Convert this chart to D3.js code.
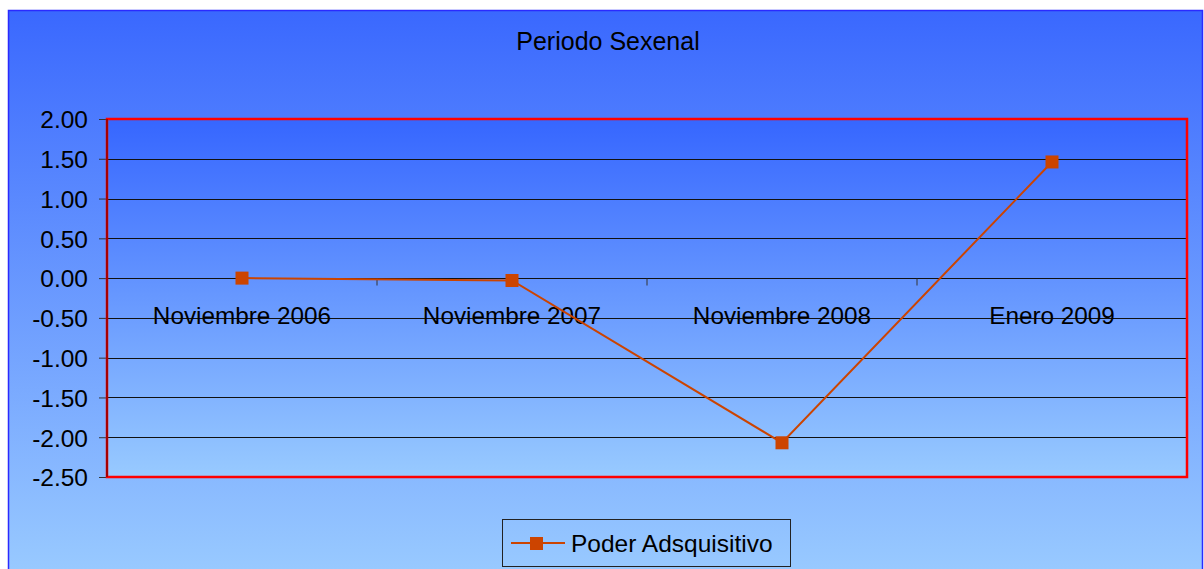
<!DOCTYPE html>
<html><head><meta charset="utf-8">
<script src="https://cdn.jsdelivr.net/npm/d3@7"></script>
<style>body{margin:0;background:#fff}svg{display:block}text{font-family:"Liberation Sans",Arial,sans-serif}</style>
</head><body>
<script>
const categories = ["Noviembre 2006","Noviembre 2007","Noviembre 2008","Enero 2009"];
const values = [0.00, -0.03, -2.07, 1.46];
const yTicks = [2.00,1.50,1.00,0.50,0.00,-0.50,-1.00,-1.50,-2.00,-2.50];
const seriesName = "Poder Adsquisitivo";
const title = "Periodo Sexenal";

const W=1204,H=569;
const svg=d3.select("body").append("svg").attr("width",W).attr("height",H);
const defs=svg.append("defs");
const g1=defs.append("linearGradient").attr("id","bg").attr("x1",0).attr("y1",0).attr("x2",0).attr("y2",1);
g1.append("stop").attr("offset","0%").attr("stop-color","#3a68fe");
g1.append("stop").attr("offset","100%").attr("stop-color","#9acbff");
const g2=defs.append("linearGradient").attr("id","pg").attr("x1",0).attr("y1",0).attr("x2",0).attr("y2",1);
g2.append("stop").attr("offset","0%").attr("stop-color","#3666ff");
g2.append("stop").attr("offset","100%").attr("stop-color","#98caff");

svg.append("rect").attr("x",8.5).attr("y",10.5).attr("width",W-10).attr("height",H).attr("fill","url(#bg)").attr("stroke","#2a2aff").attr("stroke-width",1.5);

const m={l:107,t:119,r:1187,b:477};
const x=d3.scaleBand().domain(categories).range([m.l,m.r]);
const y=d3.scaleLinear().domain([-2.5,2]).range([m.b,m.t]);

svg.append("rect").attr("x",m.l).attr("y",m.t).attr("width",m.r-m.l).attr("height",m.b-m.t).attr("fill","url(#pg)");

// gridlines
svg.append("g").selectAll("line").data(yTicks).join("line")
  .attr("x1",m.l).attr("x2",m.r).attr("y1",d=>Math.round(y(d))+0.5).attr("y2",d=>Math.round(y(d))+0.5)
  .attr("stroke","#111").attr("stroke-width",1);

// y axis
const fmt=d3.format(".2f");
const ya=svg.append("g").attr("transform",`translate(${m.l},0)`)
  .call(d3.axisLeft(y).tickValues(yTicks).tickFormat(d=>fmt(d).replace("\u2212","-")).tickSize(8).tickPadding(11));
ya.select(".domain").remove();
ya.selectAll(".tick line").attr("stroke","#333");
ya.selectAll("text").attr("font-size",24.5).attr("fill","#000").attr("dy","0.36em");

// x axis at y=0
const xa=svg.append("g").attr("transform",`translate(0,${Math.round(y(0))+0.5})`);
xa.selectAll("line").data(d3.range(categories.length+1)).join("line")
  .attr("x1",i=>m.l+i*x.step()).attr("x2",i=>m.l+i*x.step()).attr("y1",0).attr("y2",7)
  .attr("stroke","#333");
xa.selectAll("text").data(categories).join("text")
  .attr("x",d=>x(d)+x.bandwidth()/2).attr("y",45).attr("text-anchor","middle")
  .attr("font-size",24.3).attr("fill","#000").text(d=>d);

// plot border
svg.append("rect").attr("x",m.l).attr("y",m.t).attr("width",m.r-m.l).attr("height",m.b-m.t)
  .attr("fill","none").attr("stroke","#ff0000").attr("stroke-width",2.5);
svg.append("line").attr("x1",m.l).attr("x2",m.l).attr("y1",m.t).attr("y2",m.b).attr("stroke","#8a0000").attr("stroke-width",1.5);

// line
const col="#cc4400";
const line=d3.line().x((d,i)=>x(categories[i])+x.bandwidth()/2).y(d=>y(d));
svg.append("path").datum(values).attr("d",line).attr("fill","none").attr("stroke",col).attr("stroke-width",2);
svg.append("g").selectAll("rect").data(values).join("rect")
  .attr("x",(d,i)=>x(categories[i])+x.bandwidth()/2-6.5).attr("y",d=>y(d)-6.5)
  .attr("width",13).attr("height",13).attr("fill",col);

// title
svg.append("text").attr("x",608).attr("y",50).attr("text-anchor","middle").attr("font-size",25).attr("fill","#000").text(title);

// legend
const lg=svg.append("g");
lg.append("rect").attr("x",502.5).attr("y",519.5).attr("width",288).attr("height",47).attr("fill","none").attr("stroke","#222").attr("stroke-width",1);
lg.append("line").attr("x1",511).attr("x2",565).attr("y1",543).attr("y2",543).attr("stroke",col).attr("stroke-width",2);
lg.append("rect").attr("x",530).attr("y",537).attr("width",13).attr("height",13).attr("fill",col);
lg.append("text").attr("x",571).attr("y",552).attr("font-size",24.5).attr("fill","#000").text(seriesName);
</script>
</body></html>
